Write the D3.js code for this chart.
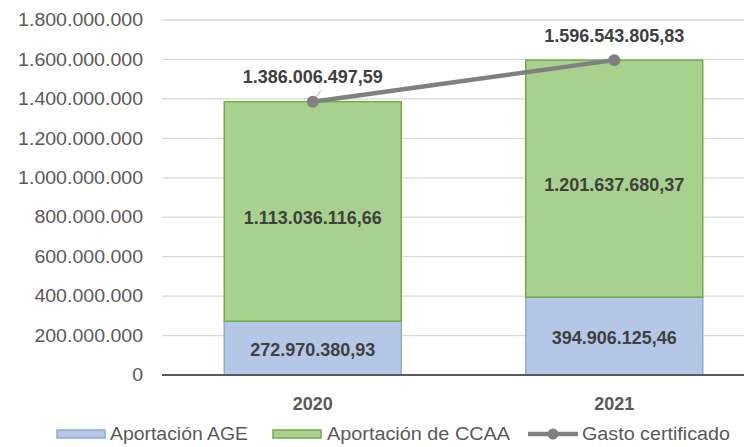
<!DOCTYPE html>
<html>
<head>
<meta charset="utf-8">
<script src="https://cdn.jsdelivr.net/npm/d3@7"></script>
<style>
  body { margin: 0; background: #fff; }
  svg { display: block; font-family: "Liberation Sans", Arial, sans-serif; }
</style>
</head>
<body>
<svg class="canvas" width="744" height="447"></svg>
<script>
var years = ['2020', '2021'];
var aportacionAGE = [272970380.93, 394906125.46];
var aportacionCCAA = [1113036116.66, 1201637680.37];
var gastoCertificado = [1386006497.59, 1596543805.83];
var yTicks = [0, 200000000, 400000000, 600000000, 800000000, 1000000000, 1200000000, 1400000000, 1600000000, 1800000000];
var legendNames = ['Aportación AGE', 'Aportación de CCAA', 'Gasto certificado'];

var svg = d3.select('.canvas');
var loc = d3.formatLocale({ decimal: ',', thousands: '.', grouping: [3], currency: ['', ''] });
var tickFmt = loc.format(',.0f');
var valFmt = loc.format(',.2f');

var left = 162, right = 765, plotRight = 744;
var y = d3.scaleLinear().domain([0, 1800000000]).range([375, 20]);
var x = d3.scaleBand().domain(years).range([left, right]).paddingInner(0.413).paddingOuter(0.2065);

// gridlines
svg.append('g').selectAll('line')
	.data(yTicks.slice(1))
	.enter().append('line')
	.attr('x1', left).attr('x2', plotRight)
	.attr('y1', function(d){ return y(d); }).attr('y2', function(d){ return y(d); })
	.attr('stroke', '#d9d9d9').attr('stroke-width', 1.3);

// y axis labels (stretched a bit to match the wider original font)
var yAxis = svg.append('g')
	.attr('transform', 'translate(' + left + ',0)')
	.call(d3.axisLeft(y).tickValues(yTicks).tickFormat(tickFmt).tickSize(0).tickPadding(19));
yAxis.select('.domain').remove();
yAxis.selectAll('text').attr('fill', '#595959').style('font-size', '18px')
	.each(function(){
		var w = this.getComputedTextLength();
		d3.select(this).attr('textLength', w * 1.085).attr('lengthAdjust', 'spacingAndGlyphs');
	});

// stacked bars
var stacks = years.map(function(yr, i) {
	return { year: yr, age: aportacionAGE[i], ccaa: aportacionCCAA[i] };
});
var bars = svg.append('g').selectAll('g')
	.data(stacks)
	.enter().append('g');

bars.append('rect')
	.attr('x', function(d){ return x(d.year); })
	.attr('width', x.bandwidth())
	.attr('y', function(d){ return y(d.age); })
	.attr('height', function(d){ return y(0) - y(d.age); })
	.attr('fill', '#b4c7e7').attr('stroke', '#8faadc').attr('stroke-width', 1.5);

bars.append('rect')
	.attr('x', function(d){ return x(d.year); })
	.attr('width', x.bandwidth())
	.attr('y', function(d){ return y(d.age + d.ccaa); })
	.attr('height', function(d){ return y(d.age) - y(d.age + d.ccaa); })
	.attr('fill', '#a9d18e').attr('stroke', '#70ad47').attr('stroke-width', 1.5);

// x axis baseline
svg.append('line')
	.attr('x1', left).attr('x2', plotRight)
	.attr('y1', y(0)).attr('y2', y(0))
	.attr('stroke', '#595959').attr('stroke-width', 2);

// bar labels
function styleLabel(sel) {
	return sel.attr('font-size', '18px').attr('font-weight', 'bold')
		.attr('fill', '#404040').attr('text-anchor', 'middle');
}
styleLabel(bars.append('text')
	.attr('x', function(d){ return x(d.year) + x.bandwidth() / 2; })
	.attr('y', function(d){ return y(d.age / 2) + 2; })
	.attr('dy', '0.35em')
	.text(function(d){ return valFmt(d.age); }));
styleLabel(bars.append('text')
	.attr('x', function(d){ return x(d.year) + x.bandwidth() / 2; })
	.attr('y', function(d){ return y(d.age + d.ccaa / 2) + 6; })
	.attr('dy', '0.35em')
	.text(function(d){ return valFmt(d.ccaa); }));

// x labels
svg.append('g').selectAll('text')
	.data(years)
	.enter().append('text')
	.attr('x', function(d){ return x(d) + x.bandwidth() / 2; })
	.attr('y', 410)
	.attr('text-anchor', 'middle')
	.attr('font-size', '18px').attr('font-weight', 'bold').attr('fill', '#595959')
	.text(function(d){ return d; });

// line series
var pts = years.map(function(yr, i){ return { year: yr, v: gastoCertificado[i] }; });
var cx = function(d){ return x(d.year) + x.bandwidth() / 2; };
svg.append('path')
	.datum(pts)
	.attr('d', d3.line().x(cx).y(function(d){ return y(d.v); }))
	.attr('fill', 'none').attr('stroke', '#808080').attr('stroke-width', 4.5).attr('stroke-linecap', 'round');

// leader line for 2020
svg.append('line')
	.attr('x1', cx(pts[0]) + 2).attr('y1', y(pts[0].v) - 3)
	.attr('x2', cx(pts[0]) + 8).attr('y2', y(pts[0].v) - 11)
	.attr('stroke', '#a6a6a6').attr('stroke-width', 1);

svg.append('g').selectAll('circle')
	.data(pts)
	.enter().append('circle')
	.attr('cx', cx).attr('cy', function(d){ return y(d.v); })
	.attr('r', 6).attr('fill', '#808080');

var lineLabelOffset = [-25, -24];
styleLabel(svg.append('g').selectAll('text')
	.data(pts)
	.enter().append('text')
	.attr('x', cx)
	.attr('y', function(d, i){ return y(d.v) + lineLabelOffset[i]; })
	.attr('dy', '0.35em')
	.text(function(d){ return valFmt(d.v); }));

// legend
var legend = svg.append('g').attr('transform', 'translate(0,434)');
var items = [
	{ name: legendNames[0], x: 57, tx: 110, w: 138, type: 'rect', fill: '#b4c7e7', stroke: '#8faadc' },
	{ name: legendNames[1], x: 273, tx: 327, w: 183, type: 'rect', fill: '#a9d18e', stroke: '#70ad47' },
	{ name: legendNames[2], x: 528, tx: 582, w: 148, type: 'line' }
];
var li = legend.selectAll('g').data(items).enter().append('g');
li.filter(function(d){ return d.type === 'rect'; }).append('rect')
	.attr('x', function(d){ return d.x; }).attr('y', -4).attr('width', 48).attr('height', 8)
	.attr('fill', function(d){ return d.fill; }).attr('stroke', function(d){ return d.stroke; }).attr('stroke-width', 1.5);
var lineItem = li.filter(function(d){ return d.type === 'line'; });
lineItem.append('line')
	.attr('x1', function(d){ return d.x; }).attr('x2', function(d){ return d.x + 50; })
	.attr('y1', 0).attr('y2', 0)
	.attr('stroke', '#808080').attr('stroke-width', 4.5);
lineItem.append('circle').attr('cx', function(d){ return d.x + 25; }).attr('cy', 0).attr('r', 5.5).attr('fill', '#808080');
li.append('text')
	.attr('x', function(d){ return d.tx; })
	.attr('y', 0).attr('dy', '0.35em')
	.attr('font-size', '18px').attr('fill', '#595959')
	.attr('textLength', function(d){ return d.w; }).attr('lengthAdjust', 'spacingAndGlyphs')
	.text(function(d){ return d.name; });
</script>
</body>
</html>
